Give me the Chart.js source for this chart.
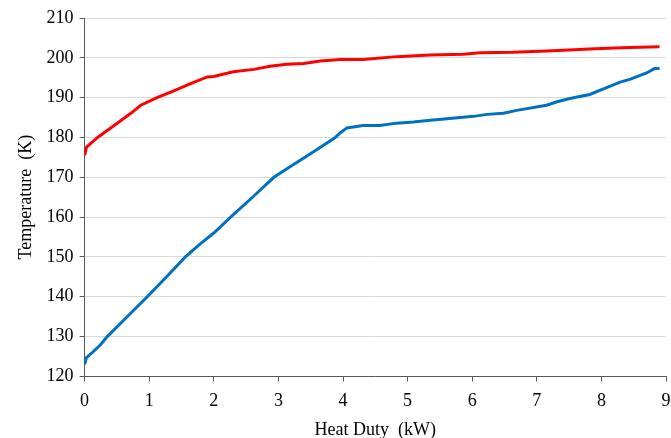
<!DOCTYPE html>
<html>
<head>
<meta charset="utf-8">
<script src="https://cdn.jsdelivr.net/npm/chart.js@4/dist/chart.umd.min.js"></script>
<style>
  html, body { margin: 0; padding: 0; background: #fff; }
  #wrap { width: 671px; height: 438px; }
</style>
</head>
<body>
<div id="wrap"><canvas id="c"></canvas></div>
<script>
// 高温側 (red)
const hotDuty = [0, 0.03, 0.2, 0.5, 0.71, 0.87, 1.12, 1.38, 1.64, 1.9, 2.0, 2.3, 2.62, 2.87, 3.13, 3.39, 3.65, 3.96, 4.31, 4.83, 5.35, 5.86, 6.12, 6.63, 7.15, 7.41, 7.82, 8.1, 8.44, 8.9];
const hotTemp = [175.5, 177.6, 180.0, 183.5, 186.0, 188.1, 190.0, 191.7, 193.5, 195.2, 195.3, 196.5, 197.1, 197.9, 198.4, 198.6, 199.2, 199.6, 199.6, 200.3, 200.7, 200.9, 201.3, 201.4, 201.7, 201.9, 202.2, 202.4, 202.6, 202.8];

// 低温側 (blue)
const coldDuty = [0, 0.03, 0.12, 0.25, 0.35, 0.5, 0.76, 0.97, 1.28, 1.56, 1.79, 2.0, 2.26, 2.62, 2.93, 3.24, 3.55, 3.88, 3.96, 4.06, 4.31, 4.57, 4.83, 5.09, 5.35, 5.61, 6.02, 6.23, 6.48, 6.69, 7.15, 7.3, 7.51, 7.82, 8.08, 8.29, 8.44, 8.7, 8.82, 8.9];
const coldTemp = [123.0, 124.7, 126.0, 128.0, 130.0, 132.4, 136.6, 140.0, 145.2, 150.0, 153.3, 156.0, 160.0, 165.3, 170.0, 173.3, 176.5, 180.0, 181.2, 182.4, 183.0, 183.0, 183.6, 183.9, 184.3, 184.7, 185.3, 185.8, 186.1, 186.8, 188.1, 188.9, 189.8, 190.8, 192.5, 193.9, 194.6, 196.2, 197.3, 197.3];

const toPoints = (xs, ys) => xs.map((x, i) => ({ x: x, y: ys[i] }));

const FONT = 'Liberation Serif';
const AXIS = '#595959';

new Chart(document.getElementById('c').getContext('2d'), {
    type: 'line',
    data: {
        datasets: [
            {
                label: 'Hot',
                data: toPoints(hotDuty, hotTemp),
                borderColor: '#ff0000',
                borderWidth: 3,
                pointRadius: 0,
                tension: 0,
                fill: false
            },
            {
                label: 'Cold',
                data: toPoints(coldDuty, coldTemp),
                borderColor: '#0070c0',
                borderWidth: 3,
                pointRadius: 0,
                tension: 0,
                fill: false
            }
        ]
    },
    options: {
        responsive: true,
        maintainAspectRatio: false,
        animation: false,
        layout: { padding: { top: 18, right: 0, left: 15, bottom: -1 } },
        plugins: {
            legend: { display: false },
            tooltip: { enabled: false }
        },
        scales: {
            x: {
                type: 'linear',
                min: 0,
                max: 9,
                // 右端の余白を詰める
                afterFit: (s) => { s.paddingRight = 5; },
                border: { color: AXIS, width: 1 },
                grid: {
                    drawOnChartArea: false,
                    drawTicks: true,
                    tickLength: 5,
                    tickColor: AXIS
                },
                ticks: {
                    stepSize: 1,
                    color: '#000',
                    padding: 9,
                    font: { family: FONT, size: 18 }
                },
                title: {
                    display: true,
                    text: 'Heat Duty  (kW)',
                    color: '#000',
                    padding: { top: 0, bottom: 0 },
                    font: { family: FONT, size: 18, lineHeight: 1.0 }
                }
            },
            y: {
                min: 120,
                max: 210,
                afterFit: (s) => { s.paddingTop = 0; },
                border: { color: AXIS, width: 1 },
                grid: {
                    color: '#d9d9d9',
                    lineWidth: 1,
                    drawTicks: true,
                    tickLength: 5,
                    tickColor: AXIS
                },
                ticks: {
                    stepSize: 10,
                    color: '#000',
                    padding: 6,
                    font: { family: FONT, size: 18 }
                },
                title: {
                    display: true,
                    text: 'Temperature  (K)',
                    color: '#000',
                    padding: { top: 0, bottom: 4 },
                    font: { family: FONT, size: 18 }
                }
            }
        }
    }
});
</script>
</body>
</html>
